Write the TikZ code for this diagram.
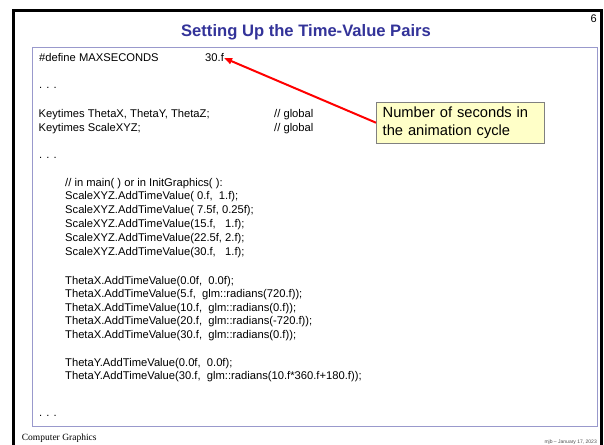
\documentclass[tikz,border=0pt]{standalone}
\definecolor{titleblue}{RGB}{51, 51, 153}
\definecolor{boxlav}{RGB}{153, 153, 204}
\definecolor{notefill}{RGB}{255, 255, 200}
\definecolor{notegray}{RGB}{128, 128, 128}
\definecolor{arrowred}{RGB}{255, 0, 0}
\usepackage{fontspec}
\setmainfont{Liberation Sans}
\newfontfamily\timesfont{Liberation Serif}
\usepackage{tikz}
\usetikzlibrary{arrows.meta, positioning}

\begin{document}
\begin{tikzpicture}[x=1pt, y=-1pt,
  codeline/.style={anchor=base west, inner sep=0pt, align=left, font=\fontsize{11.2}{13.3}\selectfont}]
  \useasboundingbox (0,0) rectangle (604,444);

  % Slide frame and code box
  \draw[line width=3pt] (13.5,470) -- (13.5,10.5) -- (601.5,10.5) -- (601.5,470);
  \draw[boxlav, line width=1pt] (32.5,47.5) rectangle (597,426.5);

  % Title and page number
  \node[font=\fontsize{16.6}{20}\selectfont\bfseries, text=titleblue] (title) at (306,32) {Setting Up the Time-Value Pairs};
  \node[font=\fontsize{11}{13}\selectfont, anchor=base east, inner sep=0pt] (pagenum) at (597,23) {6};

  % Define line
  \node[codeline] (defname) at (39,62) {\#define MAXSECONDS};
  \node[codeline] (maxval) at (205,62) {30.f};
  \node[codeline] (dotsA) at (39,88) {. . .};

  % Globals (base = last line)
  \node[codeline] (keytimes) at (38.5,131) {Keytimes ThetaX, ThetaY, ThetaZ;\\Keytimes ScaleXYZ;};
  \node[codeline] (globals) at (274,131) {// global\\// global};
  \node[codeline] (dotsB) at (39,158) {. . .};

  % Init code
  \node[codeline, font=\fontsize{11.2}{13.8}\selectfont] (scalecode) at (65,255) {
    // in main( ) or in InitGraphics( ):\\
    ScaleXYZ.AddTimeValue( 0.f,\ \ 1.f);\\
    ScaleXYZ.AddTimeValue( 7.5f, 0.25f);\\
    ScaleXYZ.AddTimeValue(15.f,\ \ \ 1.f);\\
    ScaleXYZ.AddTimeValue(22.5f, 2.f);\\
    ScaleXYZ.AddTimeValue(30.f,\ \ \ 1.f);};
  \node[codeline, font=\fontsize{11.2}{13.5}\selectfont] (thetaxcode) at (65,338) {
    ThetaX.AddTimeValue(0.0f,\ \ 0.0f);\\
    ThetaX.AddTimeValue(5.f,\ \ glm::radians(720.f));\\
    ThetaX.AddTimeValue(10.f,\ \ glm::radians(0.f));\\
    ThetaX.AddTimeValue(20.f,\ \ glm::radians(-720.f));\\
    ThetaX.AddTimeValue(30.f,\ \ glm::radians(0.f));};
  \node[codeline, font=\fontsize{11.2}{13.5}\selectfont] (thetaycode) at (65,379.5) {
    ThetaY.AddTimeValue(0.0f,\ \ 0.0f);\\
    ThetaY.AddTimeValue(30.f,\ \ glm::radians(10.f*360.f+180.f));};
  \node[codeline] (dotsC) at (39,416.5) {. . .};

  % Callout
  \node[draw=notegray, fill=notefill, anchor=north west, text width=155pt, inner xsep=6.5pt,
    minimum height=41.6pt, align=left, font=\fontsize{14.7}{18.4}\selectfont] (cyclenote) at (376,101.7)
    {Number of seconds in the animation cycle};
  \draw[arrowred, line width=2pt, -{Triangle[length=8pt, width=6pt]}] (cyclenote.west) -- (maxval.east);

  % Footer
  \node[anchor=base west, inner sep=0pt, font=\timesfont\fontsize{9.5}{11}\selectfont] (course) at (21.7,440.5) {Computer Graphics};
  \node[anchor=base east, inner sep=0pt, text=black!70, font=\fontsize{5}{6}\selectfont] (datestamp) at (597,443) {mjb -- January 17, 2023};
\end{tikzpicture}
\end{document}
